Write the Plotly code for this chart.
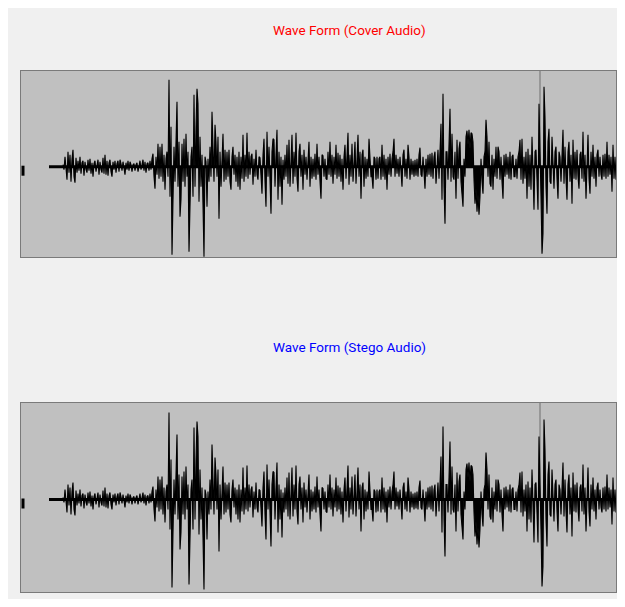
import plotly.graph_objects as go
from plotly.subplots import make_subplots

# ---- data ----
lead_in = [49, 63]          # silent lead-in (time index)
t_start = 63                # first sample of the sounding part (time index)
amp_cover = [
    2, -3, 10, -8, -13, 15, -6, 12, -15, 8,
    17, -10, -16, 9, -6, 6, -4, 10, -7, 4,
    6, -9, 5, -3, -6, 7, -4, 8, -7, 4,
    -10, 3, 6, -5, 4, 7, -8, 5, -3, -6,
    9, -7, 12, -8, 6, -9, 4, 7, -5, -10,
    5, -3, 6, -6, 3, 6, -5, 7, 3, -4,
    5, -3, -8, 4, -3, 6, -4, 5, 2, -5,
    2, 3, -4, 2, 4, -5, 3, 6, -3, 3,
    7, -4, 5, -6, 3, 4, -4, 6, -3, 8,
    13, -10, -22, 10, -8, 23, -12, 20, -10, 23,
    -15, 12, -23, 8, 15, -10, 87, -30, 40, -88,
    -47, 20, -15, 30, 65, -20, 25, -50, -33, 23,
    -15, 28, -20, 33, -10, 15, -85, -40, 10, 20,
    -30, 72, -20, 40, 78, 63, -35, 30, -20, 12,
    -45, -90, 10, 5, -40, 8, -15, 20, -10, 55,
    20, -15, 42, 25, -10, 30, -52, 15, -20, 10,
    33, -15, 17, -13, 15, -10, 17, -15, -23, 10,
    20, -8, 12, -15, 10, -20, 15, -23, 10, -12,
    32, -15, 12, -10, 34, -12, 15, -8, 10, 13,
    -18, 8, -10, 17, -8, -13, 10, 9, -15, -27,
    12, 28, -15, -40, 35, -10, 20, -20, -47, 15,
    28, 27, -20, 12, 37, -33, 15, -20, 10, -38,
    7, -13, 12, -10, 22, -17, 27, -20, 10, 32,
    -17, 15, -10, 34, -12, -25, 15, 23, -10, 12,
    -23, 17, -8, 10, -13, 12, 25, -20, 10, -12,
    8, -10, 13, -13, 23, -8, 10, -15, -32, 12,
    11, -10, 8, -12, -13, 15, -8, 25, -10, 12,
    -17, 10, -8, 22, -12, 14, -10, 12, -15, 8,
    -23, 10, 22, -12, 15, 34, -18, 12, -10, 23,
    -15, 10, 25, -17, 12, 32, -10, 15, -32, 12,
    17, -20, 10, -12, 8, -10, 28, 12, -10, -10,
    -22, 10, 8, -13, 10, -12, 8, 10, -13, 22,
    -10, 12, -13, 8, -23, 10, -8, 13, -10, 8,
    15, 28, -10, 12, -7, 8, -10, 10, -8, -20,
    12, 17, -10, 8, -12, 22, 10, -13, 8, -8,
    6, -10, 7, -9, 8, -10, 12, 19, -8, -10,
    10, -12, -22, 8, -10, 12, -8, 13, -10, 14,
    -12, 10, 15, -17, 10, 17, -12, 20, 43, -33,
    73, -20, -57, 15, 15, -13, 20, 58, -15, 33,
    -10, -13, 15, -32, 27, -12, 18, 25, -15, -35,
    -40, 8, -10, 30, 36, 22, 37, 18, 34, 33,
    25, -13, -37, -22, -45, -28, -48, -30, 8, -15,
    -27, 10, 15, 47, 30, -10, 25, -17, -20, 12,
    -23, 8, -10, 20, -12, 20, 15, -13, 10, -15,
    -32, 12, -10, 13, -8, 10, -12, 15, -13, 10,
    12, -10, -10, 8, -12, 10, 15, 27, -13, 28,
    -17, 10, -12, 15, -32, 18, -20, 12, -23, 30,
    -15, -43, 15, 17, -13, -43, 63, 25, -30, -87,
    -67, 80, 50, -20, -47, 25, 38, -15, -17, 30,
    -10, -22, 15, 20, -12, -32, 15, 10, -15, 12,
    37, -17, 20, -12, -33, 15, 25, -15, 12, -37,
    27, -12, 15, -13, 17, -10, -22, 12, 15, -12,
    35, -15, 12, -32, 15, 32, -12, -27, 15, -10,
    22, -12, 10, -20, 12, 17, -10, 10, -8, -13,
    12, -10, 13, -12, 25, -10, 12, -8, 10, -25,
    22, -12, 10, -13, 12, -13, 10, 8, -17, 10,
    -12,
]
amp_stego = list(amp_cover)   # stego waveform is visually identical
cursor_t = 540                # playback cursor position
titles = ["Wave Form (Cover Audio)", "Wave Form (Stego Audio)"]
title_colors = ["#ff0000", "#0000ff"]

t = list(range(t_start, t_start + len(amp_cover)))

OFF = 8                       # page body margin
W, H = 625 - 2 * OFF, 607 - 2 * OFF
fig = make_subplots(rows=2, cols=1)

panels = [
    dict(amp=amp_cover, x0=21, x1=616, top=71, bot=257, mid=166.7),
    dict(amp=amp_stego, x0=21, x1=616, top=403, bot=592, mid=499.5),
]


def px(v):
    return min(1.0, (v - OFF) / W)


def py(v):
    return 1 - (v - OFF) / H


for i, p in enumerate(panels, start=1):
    fig.add_trace(go.Scatter(x=[lead_in[0], t[-1]], y=[0, 0], mode="lines",
                             line=dict(color="black", width=3),
                             hoverinfo="skip", showlegend=False), row=i, col=1)
    fig.add_trace(go.Scatter(x=t, y=p["amp"], mode="lines",
                             line=dict(color="black", width=1.1),
                             fill="tozeroy", fillcolor="black",
                             showlegend=False), row=i, col=1)
    xa = "xaxis" if i == 1 else f"xaxis{i}"
    ya = "yaxis" if i == 1 else f"yaxis{i}"
    up = p["mid"] - p["top"]
    dn = p["bot"] - p["mid"]
    fig.layout[xa].update(domain=[px(p["x0"]), px(p["x1"])],
                          range=[p["x0"], p["x1"]],
                          showgrid=False, zeroline=False, showticklabels=False,
                          ticks="", showline=True, mirror=True,
                          linecolor="#7a7a7a", linewidth=1)
    fig.layout[ya].update(domain=[py(p["bot"]), py(p["top"])],
                          range=[-dn, up],
                          showgrid=False, zeroline=False, showticklabels=False,
                          ticks="", showline=True, mirror=True,
                          linecolor="#7a7a7a", linewidth=1)
    xr = "x" if i == 1 else f"x{i}"
    yr = "y" if i == 1 else f"y{i}"
    # cursor line
    fig.add_shape(type="line", xref=xr, yref=yr, x0=cursor_t, x1=cursor_t,
                  y0=0, y1=up, line=dict(color="#6e6e6e", width=1), layer="below")
    # small marker at left edge
    fig.add_shape(type="rect", xref="paper", yref="paper",
                  x0=px(21.5), x1=px(24.5),
                  y0=py(p["mid"] + 9), y1=py(p["mid"] - 1),
                  fillcolor="black", line=dict(width=0))

for title, col, ty in zip(titles, title_colors, [30, 347]):
    fig.add_annotation(text=title, xref="paper", yref="paper",
                       x=px(349), y=py(ty), xanchor="center", yanchor="middle",
                       showarrow=False,
                       font=dict(family="Roboto, Liberation Sans Narrow, sans-serif",
                                 size=13.5, color=col))

fig.update_layout(width=W, height=H, margin=dict(l=0, r=0, t=0, b=0),
                  paper_bgcolor="#f0f0f0", plot_bgcolor="#c0c0c0",
                  showlegend=False)

fig.write_html("out.html")
